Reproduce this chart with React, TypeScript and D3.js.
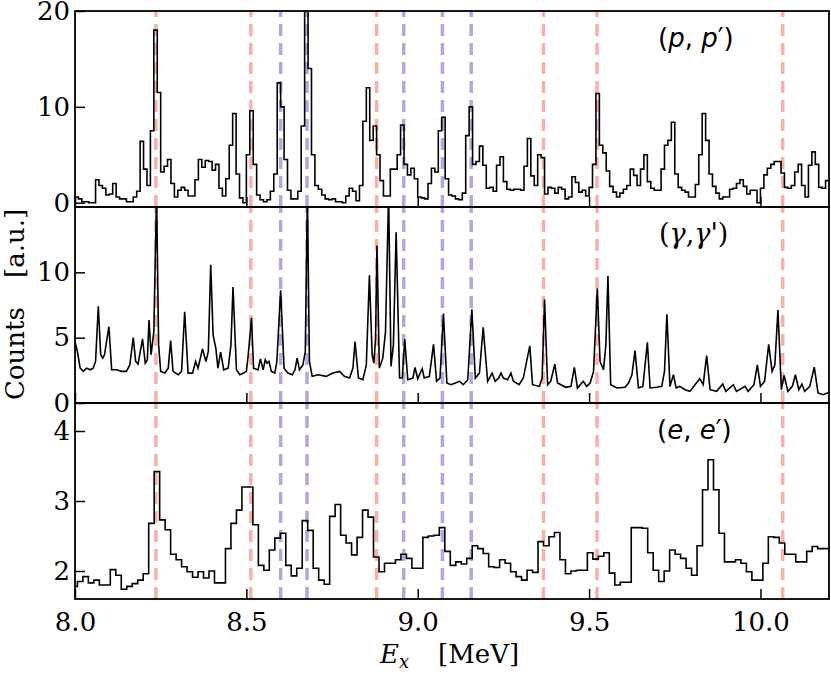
import { useEffect, useRef } from 'react';
import * as d3 from 'd3';

const WIDTH = 831;
const HEIGHT = 675;
const PLOT_LEFT = 75;
const PLOT_RIGHT = 829;
const PLOT_TOP = 11;
const PANEL_H = 196;

const X_DOMAIN: [number, number] = [8.0, 10.2];
const X_TICKS = [8.0, 8.5, 9.0, 9.5, 10.0];

// (p,p') histogram: 0.01 MeV bins from 8.0 MeV
const PP_START = 8.0;
const PP_BIN = 0.01;
const PP_COUNTS = [
  0.6, 0.4, 0.1, 0.1, 0.0, 0.0, 2.4, 1.8, 1.5, 0.8,
  0.9, 2.0, 0.6, 0.4, 0.4, 0.1, 0.1, 0.6, 1.2, 6.4,
  3.5, 1.8, 7.5, 18.0, 11.5, 3.2, 3.8, 4.5, 2.0, 0.6,
  1.3, 1.6, 1.3, 0.7, 0.7, 2.4, 4.5, 3.7, 4.4, 4.3,
  3.4, 4.0, 1.5, 0.7, 2.5, 6.0, 9.3, 3.0, 0.5, 0.0,
  5.0, 9.6, 4.0, 0.8, 0.3, 0.1, 0.3, 1.2, 3.0, 12.5,
  10.0, 4.5, 1.3, 0.4, 0.4, 1.2, 8.0, 20.5, 14.0, 5.0,
  1.8, 1.4, 0.8, 0.4, 0.3, 0.4, 0.1, 0.1, 0.0, 0.7,
  1.5, 1.2, 0.2, 1.8, 8.5, 12.0, 6.5, 8.0, 5.0, 2.3,
  0.7, 0.7, 3.5, 3.5, 5.0, 8.1, 4.0, 2.9, 3.6, 2.5,
  0.6, 0.5, 0.4, 2.0, 3.6, 3.2, 7.5, 8.9, 2.5, 0.8,
  0.7, 0.4, 0.3, 1.0, 7.0, 10.0, 4.0, 4.3, 5.9, 3.9,
  1.5, 1.6, 1.2, 3.9, 4.8, 2.2, 1.4, 1.3, 1.4, 1.4,
  1.3, 3.8, 6.7, 2.8, 1.8, 5.0, 4.7, 0.9, 1.6, 1.5,
  1.0, 1.6, 1.4, 0.4, 0.6, 2.7, 2.1, 1.1, 1.3, 0.7,
  1.6, 4.0, 11.4, 6.0, 5.2, 3.3, 1.7, 1.1, 0.6, 1.0,
  1.4, 1.8, 3.5, 2.85, 1.8, 3.5, 5.0, 2.2, 1.5, 1.3,
  1.3, 3.5, 6.0, 6.5, 8.4, 3.0, 1.6, 1.3, 1.1, 0.6,
  0.6, 1.9, 5.0, 9.3, 6.5, 3.0, 1.7, 1.0, 0.4, 0.6,
  0.6, 1.4, 1.5, 2.0, 2.4, 1.7, 0.9, 1.3, 1.3, 0.0,
  1.5, 2.9, 3.6, 4.0, 4.3, 4.3, 3.1, 1.6, 1.5, 1.8,
  3.2, 4.0, 1.8, 0.6, 3.9, 5.3, 4.0, 1.6, 1.5, 2.3,
];

// (γ,γ') spectrum as [E (MeV), counts]
const GG_POINTS: [number, number][] = [
  [8.0, 4.7], [8.007, 3.94], [8.015, 2.67], [8.024, 2.42], [8.034, 2.67], [8.044, 2.54],
  [8.053, 2.67], [8.06, 3.18], [8.068, 7.41], [8.075, 3.69], [8.081, 3.43], [8.086, 3.69],
  [8.099, 5.84], [8.107, 2.54], [8.121, 2.54], [8.136, 2.42], [8.15, 2.42], [8.16, 2.92],
  [8.17, 5.0], [8.177, 3.18], [8.184, 2.98], [8.197, 4.9], [8.205, 3.05], [8.211, 3.3],
  [8.216, 6.35], [8.222, 3.69], [8.23, 5.46], [8.238, 16.0], [8.244, 4.45], [8.25, 2.42],
  [8.262, 2.29], [8.272, 2.67], [8.279, 4.78], [8.286, 2.42], [8.301, 2.16], [8.311, 2.42],
  [8.32, 6.98], [8.33, 2.29], [8.343, 2.29], [8.352, 3.18], [8.359, 2.67], [8.372, 4.14],
  [8.382, 3.18], [8.389, 3.94], [8.396, 10.58], [8.403, 5.2], [8.411, 4.19], [8.417, 2.67],
  [8.425, 3.89], [8.434, 2.54], [8.447, 2.67], [8.455, 4.45], [8.461, 8.88], [8.471, 2.54],
  [8.481, 2.16], [8.492, 2.29], [8.5, 2.42], [8.505, 3.56], [8.515, 6.52], [8.521, 2.67],
  [8.534, 2.54], [8.541, 3.38], [8.549, 2.54], [8.555, 3.3], [8.56, 3.05], [8.566, 3.18],
  [8.573, 2.42], [8.583, 2.29], [8.589, 3.18], [8.6, 8.63], [8.61, 2.67], [8.621, 2.29],
  [8.634, 2.16], [8.642, 2.54], [8.648, 3.43], [8.655, 2.54], [8.665, 2.92], [8.672, 3.94],
  [8.678, 16.0], [8.684, 3.18], [8.692, 2.04], [8.709, 2.16], [8.733, 2.04], [8.752, 2.29],
  [8.772, 2.42], [8.786, 2.04], [8.801, 1.91], [8.811, 2.67], [8.817, 4.7], [8.827, 1.91],
  [8.84, 1.78], [8.85, 2.92], [8.859, 9.77], [8.867, 3.69], [8.872, 3.05], [8.877, 4.95],
  [8.881, 12.06], [8.888, 2.67], [8.898, 3.43], [8.906, 5.46], [8.915, 16.0], [8.922, 2.8],
  [8.929, 4.45], [8.937, 13.07], [8.947, 1.91], [8.955, 1.91], [8.962, 4.9], [8.971, 1.78],
  [8.986, 1.91], [8.992, 2.72], [9.0, 1.86], [9.013, 2.62], [9.019, 1.91], [9.034, 2.04],
  [9.046, 4.49], [9.055, 1.66], [9.065, 1.91], [9.075, 6.85], [9.085, 1.53], [9.097, 1.4],
  [9.11, 1.53], [9.122, 1.66], [9.133, 1.4], [9.146, 1.78], [9.158, 7.18], [9.168, 1.91],
  [9.18, 2.29], [9.191, 5.79], [9.204, 1.66], [9.217, 2.29], [9.226, 1.66], [9.236, 1.91],
  [9.243, 2.29], [9.25, 1.91], [9.262, 1.78], [9.272, 2.29], [9.279, 1.66], [9.296, 1.4],
  [9.308, 1.91], [9.327, 4.37], [9.335, 1.4], [9.355, 1.27], [9.363, 1.91], [9.37, 7.92],
  [9.379, 1.4], [9.388, 1.66], [9.4, 2.98], [9.408, 1.53], [9.432, 1.2], [9.447, 1.27],
  [9.457, 2.72], [9.466, 1.14], [9.483, 1.66], [9.493, 1.27], [9.503, 1.53], [9.513, 2.42],
  [9.524, 8.76], [9.532, 3.18], [9.542, 2.54], [9.549, 4.45], [9.555, 9.72], [9.563, 1.4],
  [9.581, 1.15], [9.605, 1.2], [9.615, 1.53], [9.625, 2.16], [9.634, 4.01], [9.644, 1.15],
  [9.657, 1.27], [9.67, 4.64], [9.678, 1.15], [9.697, 1.2], [9.712, 1.27], [9.72, 2.42],
  [9.727, 6.78], [9.736, 1.27], [9.746, 2.16], [9.754, 1.15], [9.765, 1.27], [9.78, 1.02],
  [9.794, 0.89], [9.809, 1.4], [9.823, 1.86], [9.833, 1.4], [9.843, 3.63], [9.853, 1.02],
  [9.872, 0.89], [9.89, 1.45], [9.899, 0.89], [9.921, 1.4], [9.93, 0.89], [9.955, 1.27],
  [9.964, 0.89], [9.981, 1.4], [9.991, 2.92], [10.0, 1.27], [10.012, 1.66], [10.024, 4.49],
  [10.034, 2.42], [10.042, 2.92], [10.051, 7.11], [10.061, 1.02], [10.069, 2.11], [10.08, 0.89],
  [10.093, 1.27], [10.102, 2.16], [10.112, 1.02], [10.121, 1.45], [10.129, 0.89], [10.144, 1.27],
  [10.157, 2.75], [10.168, 0.77], [10.183, 0.64], [10.202, 0.84],
];

// (e,e') histogram: 0.016 MeV bins
const EE_START = 7.991;
const EE_BIN = 0.016;
const EE_COUNTS = [
  1.78, 1.85, 1.92, 1.83, 1.87, 1.8, 1.8, 2.02, 1.94, 1.74,
  1.78, 1.82, 1.87, 1.96, 2.68, 3.42, 2.73, 2.59, 2.24, 2.16,
  2.06, 1.99, 1.91, 1.99, 1.9, 2.0, 1.83, 1.83, 2.32, 2.68,
  2.87, 3.2, 3.2, 2.66, 2.08, 2.01, 2.3, 2.47, 2.54, 2.08,
  1.93, 2.04, 2.72, 2.58, 2.04, 1.87, 1.81, 2.78, 2.95, 2.51,
  2.4, 2.23, 2.48, 2.87, 2.77, 2.2, 1.99, 2.11, 2.11, 2.16,
  2.24, 2.18, 2.04, 2.04, 2.48, 2.5, 2.51, 2.62, 2.28, 2.08,
  2.13, 2.1, 2.18, 2.36, 2.32, 2.25, 2.06, 2.05, 2.16, 2.11,
  1.99, 1.92, 1.87, 2.01, 1.98, 2.42, 2.36, 2.49, 2.55, 2.16,
  1.96, 2.0, 2.01, 2.01, 2.26, 2.17, 2.21, 2.26, 1.97, 1.8,
  1.84, 1.84, 2.62, 2.62, 2.61, 2.26, 2.01, 1.85, 2.0, 2.3,
  2.24, 2.18, 2.04, 1.94, 2.36, 3.16, 3.59, 3.16, 2.54, 2.13,
  2.13, 2.16, 2.11, 1.99, 1.87, 1.87, 2.11, 2.49, 2.48, 2.4,
  2.24, 2.24, 2.13, 2.13, 2.28, 2.35, 2.32, 2.32,
];

const RED_LINES = [8.236, 8.513, 8.88, 9.367, 9.523, 10.065];
const BLUE_LINES = [8.6, 8.677, 8.959, 9.072, 9.156];

const RED_COLOR = '#f9b1a6';
const BLUE_COLOR = '#a9abe1';

function histPoints(start: number, bin: number, counts: number[]): [number, number][] {
  const pts = counts.map((c, i) => [start + i * bin, c] as [number, number]);
  pts.push([start + counts.length * bin, counts[counts.length - 1]]);
  return pts;
}

const PANELS = [
  { key: 'pp', domain: [-0.45, 20], ticks: [0, 10, 20], points: histPoints(PP_START, PP_BIN, PP_COUNTS), step: true },
  { key: 'gg', domain: [0, 15], ticks: [0, 5, 10], points: GG_POINTS, step: false },
  { key: 'ee', domain: [1.6, 4.4], ticks: [2, 3, 4], points: histPoints(EE_START, EE_BIN, EE_COUNTS), step: true },
];

const SERIF = '"DejaVu Serif", serif';
const SANS = '"DejaVu Sans", sans-serif';

export default function App() {
  const svgRef = useRef<SVGSVGElement>(null);

  useEffect(() => {
    if (!svgRef.current) return;
    const svg = d3.select(svgRef.current);
    svg.selectAll('*').remove();

    const x = d3.scaleLinear().domain(X_DOMAIN).range([PLOT_LEFT, PLOT_RIGHT]);

    PANELS.forEach((p, i) => {
      const top = PLOT_TOP + i * PANEL_H;
      const bottom = top + PANEL_H;
      const y = d3.scaleLinear().domain(p.domain).range([bottom, top]);
      const clipId = `clip-${p.key}`;

      svg.append('clipPath').attr('id', clipId)
        .append('rect')
        .attr('x', PLOT_LEFT).attr('y', top)
        .attr('width', PLOT_RIGHT - PLOT_LEFT).attr('height', PANEL_H);

      const g = svg.append('g').attr('clip-path', `url(#${clipId})`);

      // reference lines
      const refs = [
        ...RED_LINES.map(e => ({ e, c: RED_COLOR })),
        ...BLUE_LINES.map(e => ({ e, c: BLUE_COLOR })),
      ];
      g.selectAll('line.ref')
        .data(refs)
        .join('line')
        .attr('class', 'ref')
        .attr('x1', d => x(d.e)).attr('x2', d => x(d.e))
        .attr('y1', bottom).attr('y2', top)
        .attr('stroke', d => d.c)
        .attr('stroke-width', 3.5)
        .attr('stroke-dasharray', '12,7');

      const line = d3.line<[number, number]>()
        .x(d => x(d[0]))
        .y(d => y(d[1]))
        .curve(p.step ? d3.curveStepAfter : d3.curveLinear);

      g.append('path')
        .attr('d', line(p.points) ?? '')
        .attr('fill', 'none')
        .attr('stroke', '#000')
        .attr('stroke-width', 1.6)
        .attr('stroke-linejoin', 'miter');

      // y axis (inward ticks)
      svg.append('g')
        .attr('transform', `translate(${PLOT_LEFT},0)`)
        .call(d3.axisLeft(y).tickValues(p.ticks).tickSize(-10).tickPadding(5).tickFormat(d3.format('d')))
        .call(a => a.select('.domain').remove())
        .call(a => a.selectAll('line').attr('stroke', '#000').attr('stroke-width', 1.5))
        .call(a => a.selectAll('text').attr('fill', '#000').attr('font-size', 26).attr('font-family', SERIF));

      // x axis (inward ticks, labels on bottom panel only)
      const isLast = i === PANELS.length - 1;
      svg.append('g')
        .attr('transform', `translate(0,${bottom})`)
        .call(d3.axisBottom(x).tickValues(X_TICKS).tickSize(-10).tickPadding(14)
          .tickFormat(isLast ? d3.format('.1f') : () => ''))
        .call(a => a.select('.domain').remove())
        .call(a => a.selectAll('line').attr('stroke', '#000').attr('stroke-width', 1.5))
        .call(a => a.selectAll('text').attr('fill', '#000').attr('font-size', 26).attr('font-family', SERIF));

      // frame
      svg.append('rect')
        .attr('x', PLOT_LEFT).attr('y', top)
        .attr('width', PLOT_RIGHT - PLOT_LEFT).attr('height', PANEL_H)
        .attr('fill', 'none').attr('stroke', '#000').attr('stroke-width', 1.8);
    });

    // panel labels
    const ppLabel = svg.append('text').attr('x', 658).attr('y', 47)
      .attr('font-family', SANS).attr('font-size', 26);
    ppLabel.append('tspan').text('(');
    ppLabel.append('tspan').attr('font-style', 'italic').text('p');
    ppLabel.append('tspan').text(', ');
    ppLabel.append('tspan').attr('font-style', 'italic').text('p');
    ppLabel.append('tspan').text('′)');

    const ggLabel = svg.append('text').attr('x', 659).attr('y', 243)
      .attr('font-family', SERIF).attr('font-size', 27);
    ggLabel.append('tspan').text('(');
    ggLabel.append('tspan').attr('font-style', 'italic').text('γ');
    ggLabel.append('tspan').text(',');
    ggLabel.append('tspan').attr('font-style', 'italic').text('γ');
    ggLabel.append('tspan').text("')");

    const eeLabel = svg.append('text').attr('x', 657).attr('y', 439)
      .attr('font-family', SANS).attr('font-size', 26);
    eeLabel.append('tspan').text('(');
    eeLabel.append('tspan').attr('font-style', 'italic').text('e');
    eeLabel.append('tspan').text(', ');
    eeLabel.append('tspan').attr('font-style', 'italic').text('e');
    eeLabel.append('tspan').text('′)');

    // x label
    const xl = svg.append('text').attr('x', 380).attr('y', 663)
      .attr('font-family', SERIF).attr('font-size', 26);
    xl.append('tspan').attr('font-style', 'italic').text('E');
    xl.append('tspan').attr('font-style', 'italic').attr('font-size', 18).attr('dy', 5).text('x');
    xl.append('tspan').attr('x', 438).attr('dy', -5).text('[MeV]');

    // y label
    svg.append('text')
      .attr('transform', 'translate(24,400) rotate(-90)')
      .attr('font-family', SERIF).attr('font-size', 26)
      .text('Counts');
    svg.append('text')
      .attr('transform', 'translate(24,278) rotate(-90)')
      .attr('font-family', SERIF).attr('font-size', 26)
      .text('[a.u.]');
  }, []);

  return (
    <svg
      ref={svgRef}
      width={WIDTH}
      height={HEIGHT}
      style={{ position: 'absolute', left: 0, top: 0, background: '#fff' }}
    />
  );
}
